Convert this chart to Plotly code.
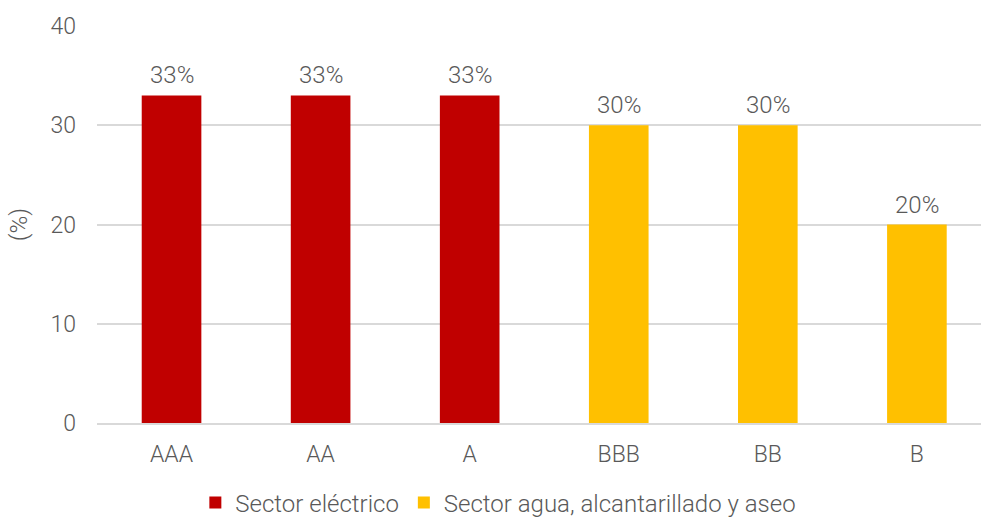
import plotly.graph_objects as go

cats_elec = ["AAA", "AA", "A"]
vals_elec = [33, 33, 33]
cats_agua = ["BBB", "BB", "B"]
vals_agua = [30, 30, 20]
all_cats = cats_elec + cats_agua
y_ticks = [0, 10, 20, 30, 40]

FONT = "Roboto"
GRAY = "#595959"
W = 300

fig = go.Figure()
fig.add_trace(go.Bar(
    x=cats_elec, y=vals_elec, name="Sector eléctrico",
    marker=dict(color="#C00000", line=dict(width=0)), width=0.4,
))
fig.add_trace(go.Bar(
    x=cats_agua, y=vals_agua, name="Sector agua, alcantarillado y aseo",
    marker=dict(color="#FFC000", line=dict(width=0)), width=0.4,
))

for c, v in zip(cats_elec + cats_agua, vals_elec + vals_agua):
    fig.add_annotation(
        x=c, y=v, text=f"{v}%", showarrow=False, yanchor="bottom", yshift=4,
        font=dict(family=FONT, size=24, color=GRAY, weight=W),
    )

fig.update_layout(
    width=981, height=519,
    margin=dict(l=96.5, r=0, t=26, b=96),
    plot_bgcolor="white", paper_bgcolor="white",
    barmode="overlay",
    font=dict(family=FONT, size=23, color=GRAY, weight=W),
    showlegend=True,
    legend=dict(
        orientation="h", xref="container", yref="container",
        x=0.508, xanchor="center", y=0.031, yanchor="middle",
        font=dict(family=FONT, size=24, color=GRAY, weight=W),
        itemsizing="constant", traceorder="normal",
    ),
    xaxis=dict(
        type="category", categoryorder="array", categoryarray=all_cats,
        range=[-0.5, 5.43], showgrid=False,
        showline=True, linecolor="#d9d9d9", linewidth=2,
        ticks="", ticklabelstandoff=9,
        tickfont=dict(family=FONT, size=23, color=GRAY, weight=W),
    ),
    yaxis=dict(
        range=[0, 40], tickvals=y_ticks, showgrid=True,
        gridcolor="#d9d9d9", gridwidth=1.5, zeroline=False,
        ticks="", ticklabelstandoff=20,
        tickfont=dict(family=FONT, size=23, color=GRAY, weight=W),
        title=dict(text="(%)", font=dict(family=FONT, size=24, color=GRAY, weight=W), standoff=16),
    ),
)

fig.write_html("out.html")
